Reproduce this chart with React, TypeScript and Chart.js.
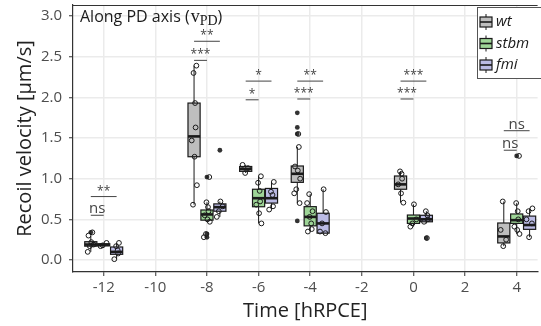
import React, { useEffect, useRef } from "react";
import { Chart, registerables } from "chart.js";

Chart.register(...registerables);

// ---- data ----
const times = [-12, -8, -6, -4, 0, 4];
const groupNames = ["wt", "stbm", "fmi"];
const groupOffsets = [-0.5, 0, 0.5];
const groupColors = ["#bebebe", "#9ed597", "#bbbbe4"];

// [lower whisker, Q1, median, Q3, upper whisker]
const wtStats = [
  [0.10, 0.17, 0.19, 0.225, 0.30],
  [0.68, 1.27, 1.52, 1.93, 2.39],
  [1.07, 1.09, 1.12, 1.15, 1.17],
  [0.70, 0.955, 1.06, 1.156, 1.39],
  [0.705, 0.87, 0.93, 1.033, 1.09],
  [0.17, 0.21, 0.29, 0.455, 0.72],
];
const stbmStats = [
  [0.17, 0.175, 0.185, 0.20, 0.21],
  [0.47, 0.49, 0.56, 0.615, 0.71],
  [0.45, 0.655, 0.76, 0.87, 1.03],
  [0.35, 0.42, 0.53, 0.656, 0.81],
  [0.41, 0.45, 0.51, 0.553, 0.685],
  [0.32, 0.45, 0.49, 0.566, 0.70],
];
const fmiStats = [
  [0.01, 0.07, 0.10, 0.16, 0.21],
  [0.53, 0.60, 0.65, 0.69, 0.72],
  [0.62, 0.70, 0.76, 0.88, 0.96],
  [0.33, 0.33, 0.45, 0.575, 0.87],
  [0.45, 0.47, 0.50, 0.55, 0.60],
  [0.28, 0.377, 0.43, 0.54, 0.635],
];

const wtOutliers = [[0.34], [], [], [1.81, 1.63, 1.55, 0.48], [], []];
const stbmOutliers = [[], [1.02, 0.32, 0.28], [], [], [], [1.28]];
const fmiOutliers = [[], [1.35], [], [], [0.27], []];

const wtPoints = [
  [0.34, 0.30, 0.22, 0.19, 0.17, 0.10],
  [2.39, 2.30, 1.93, 1.63, 1.47, 1.27, 0.92, 0.68],
  [1.17, 1.13, 1.07],
  [1.55, 1.39, 1.15, 1.10, 1.00, 0.87, 0.82, 0.70],
  [1.09, 1.06, 1.00, 0.93, 0.82, 0.705],
  [0.72, 0.37, 0.25, 0.17],
];
const stbmPoints = [
  [0.21, 0.18, 0.17],
  [1.02, 0.71, 0.65, 0.60, 0.55, 0.50, 0.47, 0.32, 0.28],
  [1.03, 0.95, 0.85, 0.72, 0.68, 0.575, 0.45],
  [0.81, 0.70, 0.60, 0.53, 0.45, 0.38, 0.35],
  [0.685, 0.50, 0.45, 0.41],
  [1.28, 0.70, 0.60, 0.50, 0.41, 0.37, 0.32],
];
const fmiPoints = [
  [0.21, 0.17, 0.12, 0.08, 0.01],
  [0.72, 0.66, 0.60, 0.53],
  [0.96, 0.84, 0.80, 0.66, 0.62],
  [0.87, 0.59, 0.45, 0.35, 0.33],
  [0.60, 0.55, 0.50, 0.47, 0.27],
  [0.635, 0.60, 0.50, 0.45, 0.28],
];

// significance brackets (lower: wt vs stbm, upper: wt vs fmi)
const sigLowLabels = ["ns", "***", "*", "***", "***", "ns"];
const sigLowY = [0.55, 2.455, 1.97, 1.98, 1.98, 1.35];
const sigHighLabels = ["**", "**", "*", "**", "***", "ns"];
const sigHighY = [0.78, 2.69, 2.2, 2.2, 2.2, 1.59];

const xTicks = [-12, -10, -8, -6, -4, -2, 0, 2, 4];
const yTicks = [0, 0.5, 1.0, 1.5, 2.0, 2.5, 3.0];

const allStats = [wtStats, stbmStats, fmiStats];
const allOutliers = [wtOutliers, stbmOutliers, fmiOutliers];
const allPoints = [wtPoints, stbmPoints, fmiPoints];

const FONT = "'Open Sans', 'Noto Sans', sans-serif";
const jitter = [0.06, -0.09, 0.02, 0.11, -0.04, -0.12, 0.09, -0.02, 0.04];
const boxHalf = 0.235;

const boxPlugin = {
  id: "boxes",
  beforeDatasetsDraw(chart: any) {
    const { ctx, scales } = chart;
    const x = scales.x;
    const y = scales.y;
    allStats.forEach((stats, g) => {
      stats.forEach((s, i) => {
        const xc = times[i] + groupOffsets[g];
        const l = x.getPixelForValue(xc - boxHalf);
        const r = x.getPixelForValue(xc + boxHalf);
        const cx = x.getPixelForValue(xc);
        const [lo, q1, med, q3, hi] = s.map((v) => y.getPixelForValue(v));
        ctx.save();
        ctx.strokeStyle = "#1a1a1a";
        ctx.lineWidth = 1;
        ctx.beginPath();
        ctx.moveTo(cx, hi);
        ctx.lineTo(cx, q3);
        ctx.moveTo(cx, q1);
        ctx.lineTo(cx, lo);
        ctx.stroke();
        ctx.fillStyle = groupColors[g];
        ctx.fillRect(l, q3, r - l, q1 - q3);
        ctx.lineWidth = 1.2;
        ctx.strokeRect(l, q3, r - l, q1 - q3);
        ctx.lineWidth = 2.6;
        ctx.beginPath();
        ctx.moveTo(l, med);
        ctx.lineTo(r, med);
        ctx.stroke();
        // outliers
        ctx.fillStyle = "#333";
        allOutliers[g][i].forEach((v) => {
          ctx.beginPath();
          ctx.arc(cx, y.getPixelForValue(v), 2.4, 0, Math.PI * 2);
          ctx.fill();
        });
        ctx.restore();
      });
    });
  },
  afterDatasetsDraw(chart: any) {
    const { ctx, scales, chartArea } = chart;
    const x = scales.x;
    const y = scales.y;
    ctx.save();
    // top border
    ctx.strokeStyle = "#333";
    ctx.lineWidth = 1.2;
    ctx.beginPath();
    ctx.moveTo(chartArea.left, chartArea.top + 0.5);
    ctx.lineTo(chartArea.right, chartArea.top + 0.5);
    ctx.stroke();

    // significance brackets
    const drawSig = (t: number, yv: number, label: string, toOffset: number) => {
      const x1 = x.getPixelForValue(t + groupOffsets[0]);
      const x2 = x.getPixelForValue(t + toOffset);
      const py = y.getPixelForValue(yv);
      ctx.strokeStyle = "#444";
      ctx.lineWidth = 1;
      ctx.beginPath();
      ctx.moveTo(x1, py);
      ctx.lineTo(x2, py);
      ctx.stroke();
      ctx.fillStyle = "#444";
      ctx.textAlign = "center";
      ctx.textBaseline = "alphabetic";
      ctx.font = label === "ns" ? `15px ${FONT}` : `12px ${FONT}`;
      ctx.fillText(label, (x1 + x2) / 2, py - 2);
    };
    times.forEach((t, i) => {
      drawSig(t, sigLowY[i], sigLowLabels[i], groupOffsets[1]);
      drawSig(t, sigHighY[i], sigHighLabels[i], groupOffsets[2]);
    });

    // panel title
    let px = chartArea.left + 7;
    const py = 17;
    ctx.textAlign = "left";
    ctx.textBaseline = "middle";
    ctx.fillStyle = "#1a1a1a";
    ctx.font = `16px ${FONT}`;
    const t1 = "Along PD axis (";
    ctx.fillText(t1, px, py);
    px += ctx.measureText(t1).width + 1;
    ctx.font = "18px 'Liberation Serif', 'DejaVu Serif', serif";
    ctx.fillText("v", px, py);
    px += ctx.measureText("v").width;
    ctx.font = "14px 'Liberation Serif', 'DejaVu Serif', serif";
    ctx.fillText("PD", px, py + 4);
    px += ctx.measureText("PD").width;
    ctx.font = `16px ${FONT}`;
    ctx.fillText(")", px, py);

    // legend
    ctx.fillStyle = "#ffffff";
    ctx.fillRect(477, 7, 80, 71);
    ctx.strokeStyle = "#555";
    ctx.lineWidth = 1;
    ctx.strokeRect(477.5, 7.5, 80, 71);
    groupNames.forEach((name, g) => {
      const cy = 22 + g * 21.5;
      const ix = 486;
      ctx.strokeStyle = "#1a1a1a";
      ctx.lineWidth = 1;
      ctx.beginPath();
      ctx.moveTo(ix, cy - 8);
      ctx.lineTo(ix, cy + 8);
      ctx.stroke();
      ctx.fillStyle = groupColors[g];
      ctx.fillRect(480, cy - 5, 12, 10);
      ctx.lineWidth = 1.2;
      ctx.strokeRect(480, cy - 5, 12, 10);
      ctx.lineWidth = 1.6;
      ctx.beginPath();
      ctx.moveTo(480, cy);
      ctx.lineTo(492, cy);
      ctx.stroke();
      ctx.fillStyle = "#1a1a1a";
      ctx.font = `italic 15px ${FONT}`;
      ctx.textAlign = "left";
      ctx.textBaseline = "middle";
      ctx.fillText(name, 496, cy);
    });
    ctx.restore();
  },
};

export default function App() {
  const ref = useRef<HTMLCanvasElement | null>(null);
  useEffect(() => {
    if (!ref.current) return;
    const datasets = allPoints.map((pts, g) => {
      const data: { x: number; y: number }[] = [];
      let k = g * 3;
      pts.forEach((vals, i) => {
        vals.forEach((v) => {
          data.push({ x: times[i] + groupOffsets[g] + jitter[k % jitter.length], y: v });
          k++;
        });
      });
      return {
        type: "scatter" as const,
        label: groupNames[g],
        data,
        pointRadius: 2.4,
        pointHoverRadius: 2.4,
        borderWidth: 1,
        borderColor: "#1a1a1a",
        backgroundColor: "rgba(0,0,0,0)",
        clip: false as any,
      };
    });
    const chart = new Chart(ref.current, {
      type: "scatter",
      data: { datasets },
      plugins: [boxPlugin],
      options: {
        responsive: false,
        animation: false,
        devicePixelRatio: 1,
        layout: { padding: { top: 5, right: 0, left: 0, bottom: 0 } },
        plugins: { legend: { display: false }, tooltip: { enabled: false } },
        scales: {
          x: {
            type: "linear",
            min: -13.19,
            max: 4.81,
            afterBuildTicks: (s: any) => {
              s.ticks = xTicks.map((v) => ({ value: v }));
            },
            afterFit: (s: any) => {
              s.height = 54;
              s.paddingLeft = 0;
              s.paddingRight = 0;
            },
            ticks: {
              font: { family: FONT, size: 15 },
              color: "#4d4d4d",
              padding: 3,
              maxRotation: 0,
              autoSkip: false,
              callback: (v: any) => String(v),
            },
            grid: { color: "#ebebeb", lineWidth: 1.5, tickLength: 4, tickColor: "#333", tickWidth: 1 },
            border: { color: "#333", width: 1.2 },
            title: {
              display: true,
              text: "Time [hRPCE]",
              font: { family: FONT, size: 20 },
              color: "#222",
              padding: { top: 0, bottom: 3 },
            },
          },
          y: {
            type: "linear",
            min: -0.1476,
            max: 3.136,
            afterBuildTicks: (s: any) => {
              s.ticks = yTicks.map((v) => ({ value: v }));
            },
            afterFit: (s: any) => {
              s.width = 73;
              s.paddingTop = 0;
              s.paddingBottom = 0;
            },
            ticks: {
              font: { family: FONT, size: 15 },
              color: "#4d4d4d",
              padding: 7,
              callback: (v: any) => Number(v).toFixed(1),
            },
            grid: { color: "#ebebeb", lineWidth: 1.5, tickLength: 4, tickColor: "#333", tickWidth: 1 },
            border: { color: "#333", width: 1.2 },
            title: {
              display: true,
              text: "Recoil velocity [µm/s]",
              font: { family: FONT, size: 20 },
              color: "#222",
              padding: { top: 13, bottom: 0 },
            },
          },
        },
      } as any,
    });
    return () => chart.destroy();
  }, []);
  return (
    <div style={{ position: "fixed", left: 0, top: 0, width: 541, height: 326, background: "#fff" }}>
      <canvas ref={ref} width={541} height={326} style={{ display: "block" }} />
    </div>
  );
}
